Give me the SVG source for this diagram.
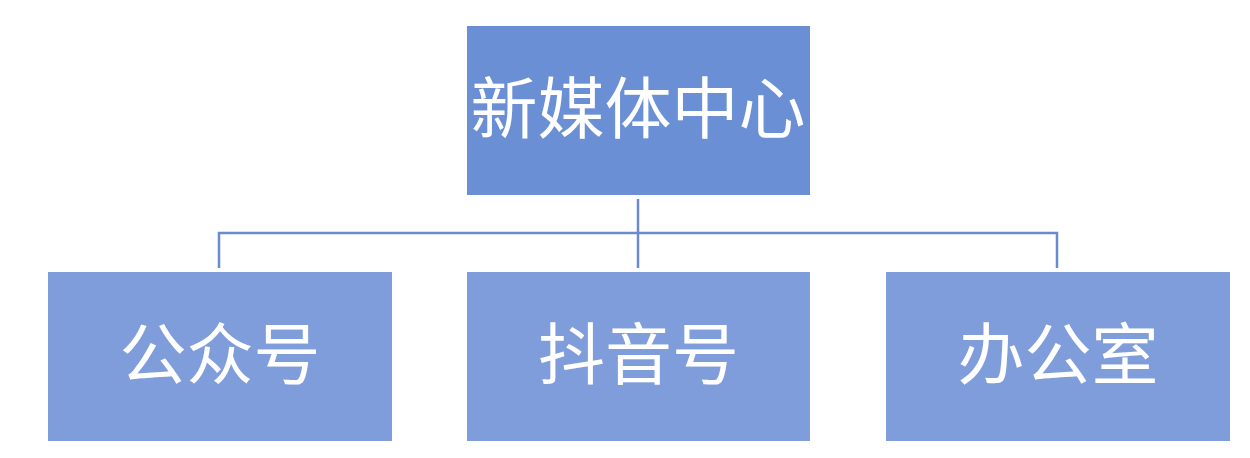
<svg xmlns="http://www.w3.org/2000/svg" width="1250" height="458" viewBox="0 0 1250 458">
<style>
.top{fill:#6B8FD4}
.box{fill:#7F9DDA}
.lbl{fill:#FFFFFF;font-family:"Liberation Serif","Noto Sans CJK SC",serif;font-size:67px;text-anchor:middle;dominant-baseline:central}
.ln{fill:none;stroke:#6A8BD0;stroke-width:2.5}
</style>
<rect width="1250" height="458" fill="#FFFFFF"/>
<g id="connectors">
<line class="ln" x1="638" y1="199" x2="638" y2="268"/>
<polyline class="ln" points="219,268 219,233 1057,233 1057,268"/>
</g>
<g id="node-root">
<rect class="top" x="467" y="26" width="343" height="169"/>
<text class="lbl" x="638" y="110">新媒体中心</text>
</g>
<g id="node-gzh">
<rect class="box" x="48" y="272" width="344" height="169"/>
<text class="lbl" x="220" y="356">公众号</text>
</g>
<g id="node-dyh">
<rect class="box" x="467" y="272" width="343" height="169"/>
<text class="lbl" x="638.5" y="356">抖音号</text>
</g>
<g id="node-bgs">
<rect class="box" x="886" y="272" width="344" height="169"/>
<text class="lbl" x="1058" y="356">办公室</text>
</g>
</svg>
